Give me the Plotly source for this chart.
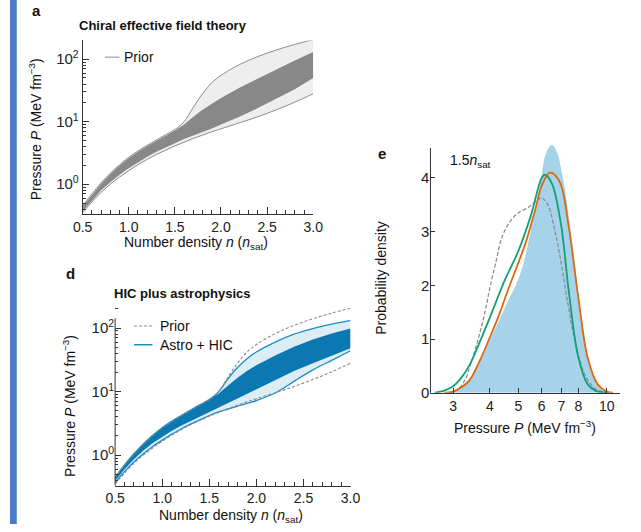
import plotly.graph_objects as go

W, H = 641, 532
FONT = "Liberation Sans, Arial, Helvetica, sans-serif"

# ---------------- data ----------------
# Panels a / d: number density grid (in n_sat) and pressure bands (MeV fm^-3)
n_grid = [0.5, 0.6, 0.7, 0.8, 0.9, 1.0, 1.1, 1.2, 1.3, 1.4, 1.5, 1.6, 1.7,
          1.8, 1.9, 2.0, 2.2, 2.4, 2.6, 2.8, 3.0]
prior_upper = [0.45, 0.70, 1.05, 1.50, 2.05, 2.70, 3.40, 4.20, 5.10, 6.20,
               7.50, 10.0, 17.0, 28.0, 42.0, 55.0, 82.0, 110.0, 140.0, 172.0, 205.0]
prior_lower = [0.35, 0.52, 0.74, 1.00, 1.30, 1.65, 2.05, 2.50, 3.00, 3.50,
               4.10, 4.70, 5.40, 6.10, 6.90, 7.70, 9.60, 12.0, 15.5, 20.5, 28.0]
chiral_upper = [0.44, 0.68, 1.02, 1.46, 2.00, 2.62, 3.30, 4.08, 4.95, 6.00,
                7.20, 9.00, 12.0, 15.5, 19.5, 24.0, 35.0, 50.0, 68.0, 95.0, 130.0]
chiral_lower = [0.37, 0.55, 0.80, 1.08, 1.42, 1.80, 2.25, 2.75, 3.30, 3.90,
                4.60, 5.30, 6.00, 6.80, 7.80, 9.00, 12.0, 16.5, 23.0, 33.0, 50.0]

astro_upper = [0.45, 0.70, 1.05, 1.50, 2.05, 2.70, 3.40, 4.20, 5.10, 6.20,
               7.50, 10.0, 16.0, 24.0, 33.0, 42.0, 60.0, 80.0, 98.0, 115.0, 132.0]
astro_lower = [0.37, 0.55, 0.78, 1.05, 1.37, 1.72, 2.12, 2.58, 3.08, 3.60,
               4.20, 4.80, 5.30, 5.90, 6.50, 7.20, 9.50, 14.5, 22.0, 31.0, 44.0]
astro68_upper = [0.45, 0.70, 1.05, 1.50, 2.05, 2.70, 3.40, 4.20, 5.10, 6.20,
                 7.50, 9.30, 12.5, 16.5, 21.0, 26.0, 37.0, 51.0, 66.0, 82.0, 98.0]
astro68_lower = [0.39, 0.60, 0.86, 1.18, 1.55, 1.95, 2.40, 2.90, 3.40, 4.00,
                 4.70, 5.60, 6.60, 7.80, 9.20, 11.0, 15.0, 21.0, 28.0, 37.0, 48.0]

# Panel e: pressure distributions at 1.5 n_sat
p_fill = [2.9, 3.1, 3.4, 3.7, 4.0, 4.3, 4.6, 4.9, 5.2, 5.5, 5.8, 6.0, 6.2,
          6.5, 6.8, 7.0, 7.2, 7.5, 7.8, 8.1, 8.5, 9.0, 9.5, 10.0, 10.5]
d_fill = [0.0, 0.08, 0.25, 0.58, 0.98, 1.35, 1.70, 2.00, 2.40, 3.00, 3.60,
          4.05, 4.45, 4.62, 4.45, 4.15, 3.80, 3.10, 2.35, 1.60, 0.85, 0.30,
          0.08, 0.02, 0.0]
p_green = [2.6, 2.8, 3.0, 3.2, 3.4, 3.7, 4.0, 4.5, 5.0, 5.5, 6.0, 6.15, 6.5,
           7.0, 7.4, 8.0, 8.6, 9.2, 9.6, 10.0]
d_green = [0.0, 0.04, 0.12, 0.28, 0.50, 0.95, 1.40, 2.10, 2.64, 3.28, 4.00,
           4.06, 3.90, 3.10, 1.95, 0.66, 0.16, 0.03, 0.01, 0.0]
p_orange = [2.8, 3.0, 3.2, 3.4, 3.7, 4.0, 4.3, 4.6, 5.0, 5.3, 5.7, 6.0, 6.4,
            6.9, 7.4, 8.0, 8.6, 9.3, 10.0, 10.5]
d_orange = [0.0, 0.02, 0.10, 0.22, 0.60, 1.03, 1.45, 1.90, 2.42, 2.80, 3.40,
            3.85, 4.10, 3.94, 3.13, 1.77, 0.66, 0.16, 0.02, 0.0]
p_prior = [2.9, 3.1, 3.3, 3.45, 3.65, 3.85, 4.0, 4.2, 4.4, 4.7, 5.0, 5.4,
           5.8, 6.0, 6.3, 6.7, 7.0, 7.4, 7.8, 8.4, 9.0, 9.5, 10.0]
d_prior = [0.0, 0.05, 0.25, 0.55, 1.00, 1.50, 1.95, 2.45, 2.90, 3.20, 3.35,
           3.45, 3.58, 3.63, 3.50, 2.95, 2.40, 1.60, 0.95, 0.35, 0.10, 0.03, 0.0]

n_ticks = [0.5, 1.0, 1.5, 2.0, 2.5, 3.0]
p_ticks = [1, 10, 100]
p_ticktext = ["10<sup>0</sup>", "10<sup>1</sup>", "10<sup>2</sup>"]
p_minor = [0.4, 0.5, 0.6, 0.7, 0.8, 0.9, 2, 3, 4, 5, 6, 7, 8, 9,
           20, 30, 40, 50, 60, 70, 80, 90, 200]
e_xticks = [3, 4, 5, 6, 7, 8, 10]
e_yticks = [0, 1, 2, 3, 4]

# ---------------- colours ----------------
GREY_LIGHT = "#eeeeee"
GREY_LINE = "#8c8c8c"
GREY_DARK = "#888888"
BLUE_LINE = "#1b8cc4"
BLUE_DARK = "#0b78b2"
BLUE_LIGHT = "#dcedf6"
E_FILL = "#a6d3e9"
E_GREEN = "#12a07a"
E_ORANGE = "#db6a10"
AXIS = "#333333"


def px_x(px):
    return px / W


def px_y(py):
    return 1 - py / H


def band(x, lo, hi):
    return list(x) + list(x)[::-1], list(lo) + list(hi)[::-1]


fig = go.Figure()

# ---- panel a: chiral EFT ----
bx, by = band(n_grid, prior_lower, prior_upper)
fig.add_trace(go.Scatter(x=bx, y=by, fill="toself", fillcolor=GREY_LIGHT,
                         line=dict(width=0), mode="lines", xaxis="x", yaxis="y",
                         hoverinfo="skip", showlegend=False))
bx, by = band(n_grid, chiral_lower, chiral_upper)
fig.add_trace(go.Scatter(x=bx, y=by, fill="toself", fillcolor=GREY_DARK,
                         line=dict(width=0), mode="lines", xaxis="x", yaxis="y",
                         hoverinfo="skip", showlegend=False))
for arr in (prior_upper, prior_lower):
    fig.add_trace(go.Scatter(x=n_grid, y=arr, mode="lines", xaxis="x", yaxis="y",
                             line=dict(color=GREY_LINE, width=1, shape="spline"),
                             showlegend=False))

# ---- panel d: HIC plus astrophysics ----
bx, by = band(n_grid, astro_lower, astro_upper)
fig.add_trace(go.Scatter(x=bx, y=by, fill="toself", fillcolor=BLUE_LIGHT,
                         line=dict(width=0), mode="lines", xaxis="x2", yaxis="y2",
                         hoverinfo="skip", showlegend=False))
bx, by = band(n_grid, astro68_lower, astro68_upper)
fig.add_trace(go.Scatter(x=bx, y=by, fill="toself", fillcolor=BLUE_DARK,
                         line=dict(width=0), mode="lines", xaxis="x2", yaxis="y2",
                         hoverinfo="skip", showlegend=False))
for arr in (astro_upper, astro_lower):
    fig.add_trace(go.Scatter(x=n_grid, y=arr, mode="lines", xaxis="x2", yaxis="y2",
                             line=dict(color=BLUE_LINE, width=1.3, shape="spline"),
                             showlegend=False))
for arr in (prior_upper, prior_lower):
    fig.add_trace(go.Scatter(x=n_grid, y=arr, mode="lines", xaxis="x2", yaxis="y2",
                             line=dict(color="#8a8a8a", width=1.1, dash="3px,2px",
                                       shape="spline"),
                             showlegend=False))

# ---- panel e: distributions at 1.5 n_sat ----
fig.add_trace(go.Scatter(x=p_fill, y=d_fill, fill="tozeroy", fillcolor=E_FILL,
                         mode="lines", line=dict(width=0, shape="spline"),
                         xaxis="x3", yaxis="y3", showlegend=False))
fig.add_trace(go.Scatter(x=p_prior, y=d_prior, mode="lines", xaxis="x3", yaxis="y3",
                         line=dict(color="#888888", width=1.2, dash="4px,2px",
                                   shape="spline"), showlegend=False))
fig.add_trace(go.Scatter(x=p_green, y=d_green, mode="lines", xaxis="x3", yaxis="y3",
                         line=dict(color=E_GREEN, width=1.8, shape="spline"),
                         showlegend=False))
fig.add_trace(go.Scatter(x=p_orange, y=d_orange, mode="lines", xaxis="x3", yaxis="y3",
                         line=dict(color=E_ORANGE, width=1.8, shape="spline"),
                         showlegend=False))

xtick_font = dict(family=FONT, size=14, color="#222222")
ytick_font = dict(family=FONT, size=15, color="#222222")

xa_common = dict(range=[0.5, 3.0], tickvals=n_ticks, tickformat=".1f",
                 ticks="inside", ticklen=7, tickwidth=1, tickcolor=AXIS,
                 showline=True, linecolor=AXIS, linewidth=1, showgrid=False,
                 zeroline=False, tickfont=xtick_font,
                 minor=dict(dtick=0.1, tick0=0.5, ticks="inside", ticklen=4,
                            tickcolor=AXIS, showgrid=False))
ya_common = dict(type="log", tickvals=p_ticks, ticktext=p_ticktext,
                 ticks="inside", ticklen=6, tickwidth=1, tickcolor=AXIS,
                 showgrid=False, zeroline=False, tickfont=ytick_font,
                 minor=dict(tickvals=p_minor, ticks="inside", ticklen=3,
                            tickcolor=AXIS, showgrid=False))

a_dom_x = [px_x(75), px_x(313)]
a_dom_y = [px_y(217), px_y(41)]
d_dom_x = [px_x(108.5), px_x(351.5)]
d_dom_y = [px_y(493), px_y(310.5)]
e_dom_x = [px_x(434), px_x(630)]
e_dom_y = [px_y(398.7), px_y(398.7 - 4.7 * 54.5)]

d_range = [-0.48, 2.35]
e_range = [0, 4.7]

fig.update_layout(
    width=W, height=H, margin=dict(l=0, r=0, t=0, b=0),
    paper_bgcolor="white", plot_bgcolor="rgba(0,0,0,0)",
    font=dict(family=FONT, color="#222222"),
    xaxis=dict(domain=a_dom_x, anchor="y", **xa_common),
    yaxis=dict(domain=a_dom_y, anchor="x", range=[-0.472, 2.30],
               showline=True, linecolor=AXIS, linewidth=1, **ya_common),
    xaxis2=dict(domain=d_dom_x, anchor="y2", **xa_common),
    yaxis2=dict(domain=d_dom_y, anchor="x2", range=d_range, showline=False,
                **ya_common),
    xaxis3=dict(domain=e_dom_x, anchor="y3", type="log",
                range=[0.400, 1.046], tickvals=e_xticks,
                ticks="inside", ticklen=5, tickcolor=AXIS, showline=True,
                linecolor=AXIS, linewidth=1, showgrid=False, zeroline=False,
                tickfont=xtick_font),
    yaxis3=dict(domain=e_dom_y, anchor="x3", range=e_range, tickvals=e_yticks,
                ticks="inside", ticklen=5, tickcolor=AXIS, showline=False,
                showgrid=False, zeroline=False, tickfont=ytick_font),
)

# partial y-axis lines for panels d and e
d_top = d_dom_y[0] + (2.155 - d_range[0]) / (d_range[1] - d_range[0]) * (d_dom_y[1] - d_dom_y[0])
e_top = e_dom_y[0] + (4.56 - e_range[0]) / (e_range[1] - e_range[0]) * (e_dom_y[1] - e_dom_y[0])
shapes = [
    dict(type="rect", xref="paper", yref="paper", x0=0, x1=px_x(7), y0=0, y1=1,
         fillcolor="#4a7cc9", line=dict(width=0), layer="below"),
    dict(type="line", xref="paper", yref="paper", x0=d_dom_x[0], x1=d_dom_x[0],
         y0=d_dom_y[0], y1=d_top, line=dict(color=AXIS, width=1)),
    dict(type="line", xref="paper", yref="paper", x0=e_dom_x[0], x1=e_dom_x[0],
         y0=e_dom_y[0], y1=e_top, line=dict(color=AXIS, width=1)),
    # legend samples
    dict(type="line", xref="paper", yref="paper", x0=px_x(98), x1=px_x(113),
         y0=px_y(58), y1=px_y(58), line=dict(color=GREY_LINE, width=1)),
    dict(type="line", xref="paper", yref="paper", x0=px_x(128), x1=px_x(147),
         y0=px_y(331), y1=px_y(331), line=dict(color="#8a8a8a", width=1.1, dash="3px,2px")),
    dict(type="line", xref="paper", yref="paper", x0=px_x(128), x1=px_x(147),
         y0=px_y(350), y1=px_y(350), line=dict(color=BLUE_LINE, width=1.5)),
]
fig.update_layout(shapes=shapes)


def text(x, y, s, size=14, bold=False, xanchor="center", angle=0):
    if bold:
        s = "<b>" + s + "</b>"
    fig.add_annotation(x=px_x(x), y=px_y(y), xref="paper", yref="paper", text=s,
                       showarrow=False, xanchor=xanchor, yanchor="middle",
                       textangle=angle, font=dict(family=FONT, size=size, color="#111111"))


# panel a text
text(27, 11, "a", size=15, bold=True)
text(158, 26, "Chiral effective field theory", size=13, bold=True)
text(116, 58, "Prior", size=14, xanchor="left")
text(26, 131, "Pressure <i>P</i> (MeV fm<sup>−3</sup>)", angle=-90)
text(192, 247, "Number density <i>n</i> (<i>n</i><sub>sat</sub>)")

# panel d text
text(62, 278, "d", size=15, bold=True)
text(178, 298, "HIC plus astrophysics", size=13, bold=True)
text(153, 331, "Prior", size=14, xanchor="left")
text(153, 350, "Astro + HIC", size=14, xanchor="left")
text(61, 412, "Pressure <i>P</i> (MeV fm<sup>−3</sup>)", angle=-90)
text(228, 524, "Number density <i>n</i> (<i>n</i><sub>sat</sub>)")

# panel e text
text(384, 156, "e", size=15, bold=True)
text(452, 163, "1.5<i>n</i><sub>sat</sub>", size=14, xanchor="left")
text(383, 282, "Probability density", angle=-90)
text(532, 434, "Pressure <i>P</i> (MeV fm<sup>−3</sup>)")

fig.write_html("out.html")
